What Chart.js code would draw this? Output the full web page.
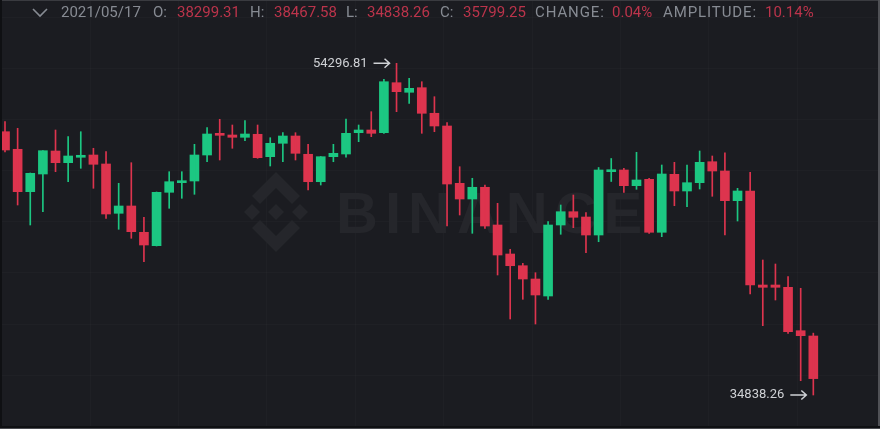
<!DOCTYPE html>
<html>
<head>
<meta charset="utf-8">
<script src="https://cdn.jsdelivr.net/npm/chart.js@4.4.1/dist/chart.umd.min.js"></script>
<style>
html, body { margin: 0; padding: 0; background: #1b1c21; }
#wrap { position: relative; width: 880px; height: 429px; overflow: hidden; }
#wrap canvas { position: absolute; left: 0; top: 0; }
.hd { position: absolute; top: 5px; font: 15px Roboto, sans-serif; line-height: 15px; white-space: nowrap; }
.lb { color: #878b93; }
.vl { color: #bb344b; }
.sp { letter-spacing: 0.9px; }
</style>
</head>
<body>
<div id="wrap">
  <canvas id="graph" width="880" height="429"></canvas>
  <svg style="position:absolute;left:31px;top:6px" width="18" height="12">
    <polyline points="2,3 9,10 16,3" fill="none" stroke="#878b93" stroke-width="1.6"/>
  </svg>
  <span class="hd lb" style="left:61px" id="hDate"></span>
  <span class="hd lb" style="left:153px">O:</span>
  <span class="hd vl" style="left:177px" id="hO"></span>
  <span class="hd lb" style="left:250px">H:</span>
  <span class="hd vl" style="left:274px" id="hH"></span>
  <span class="hd lb" style="left:346px">L:</span>
  <span class="hd vl" style="left:367px" id="hL"></span>
  <span class="hd lb" style="left:440px">C:</span>
  <span class="hd vl" style="left:463px" id="hC"></span>
  <span class="hd lb sp" style="left:535px">CHANGE:</span>
  <span class="hd vl" style="left:612px" id="hChg"></span>
  <span class="hd lb sp" style="left:663px">AMPLITUDE:</span>
  <span class="hd vl" style="left:765px" id="hAmp"></span>
</div>
<script>
// candle data (oldest -> newest)
const opens  = [50284,49252,46765,47803,49152,48466,48783,48917,48390,45497,
                45926,44383,43597,46729,47293,47392,48917,50190,50091,49956,
                50132,48818,49604,50032,48959,47351,48818,48976,50226,50384,
                50226,53159,52596,52866,51364,50619,47257,46336,47023,44811,
                43110,42423,41643,40646,44811,45591,45280,44224,47938,48038,
                47117,47492,44383,47785,46806,47293,48524,47979,46237,46806,
                41291,41291,41156,38610,38299.31];
const highs  = [50871,50484,47862,49181,50384,49991,50284,49311,49111,47257,
                48466,45263,46747,47938,47938,49545,50519,51012,50677,50930,
                50677,49932,50226,50226,49545,48829,49545,51029,50677,51458,
                53358,54296.81,53417,53217,52338,50812,48231,47551,47158,46084,
                43386,42564,42013,45005,45984,46571,45533,48184,48712,48137,
                49076,47551,48331,48489,48331,49152,48859,49052,46964,47903,
                42758,42523,41778,41098,38467.58];
const lows   = [49093,45984,44811,45591,47938,47351,48137,46964,45204,44559,
                44031,42658,43579,45791,46377,46612,48524,48624,49311,49756,
                48724,48272,48524,48624,46864,47158,48524,48783,49698,49991,
                50190,51458,51950,50190,50284,44752,45398,44324,44617,41878,
                39297,40452,39003,40452,44266,44653,43186,43831,47363,46729,
                46905,44324,44125,45943,45884,46923,46495,44224,45046,40763,
                38904,40411,38458,35677,34838.26];
const closes = [49211,46765,47844,49170,48466,48859,48900,48372,45456,45926,
                44418,43638,46729,47351,47392,48917,50149,50073,49956,50149,
                48759,49604,50032,49017,47351,48818,49017,50190,50384,50190,
                53217,52631,52830,51364,50619,47216,46336,47023,44752,43051,
                42423,41643,40705,44811,45591,45263,44224,48038,48020,47117,
                47451,44383,47803,46806,47293,48489,47979,46237,46806,41291,
                41156,41156,38552,38317,35799.25];

const lastDate = '2021/05/17';
const lastChange = '0.04%';
const lastAmplitude = '10.14%';

const redC = '#dd344e';
const greenC = '#1cc782';
const gridC = 'rgba(255,255,255,0.02)';

const n = opens.length;
document.getElementById('hDate').textContent = lastDate;
document.getElementById('hO').textContent = opens[n - 1].toFixed(2);
document.getElementById('hH').textContent = highs[n - 1].toFixed(2);
document.getElementById('hL').textContent = lows[n - 1].toFixed(2);
document.getElementById('hC').textContent = closes[n - 1].toFixed(2);
document.getElementById('hChg').textContent = lastChange;
document.getElementById('hAmp').textContent = lastAmplitude;

var candleColors = opens.map((o, i) => closes[i] >= o ? greenC : redC);
var wickData = lows.map((l, i) => ({ x: i, y: [l, highs[i]] }));
var bodyData = opens.map((o, i) => ({ x: i, y: [o, closes[i]] }));

// watermark logo + text, drawn under the candles
const watermark = {
  id: 'watermark',
  beforeDatasetsDraw(chart) {
    const c = chart.ctx;
    c.save();
    c.fillStyle = '#25262b';
    const cx = 276, cy = 212, s = 40;
    const P = (pts) => {
      c.beginPath();
      pts.forEach((p, k) => k ? c.lineTo(cx + p[0] * s, cy + p[1] * s) : c.moveTo(cx + p[0] * s, cy + p[1] * s));
      c.closePath();
      c.fill();
    };
    const dia = (x, y, r) => P([[x, y - r], [x + r, y], [x, y + r], [x - r, y]]);
    dia(0, 0, 0.2);
    dia(-0.6, 0, 0.2);
    dia(0.6, 0, 0.2);
    P([[0, -1], [0.6, -0.4], [0.4, -0.2], [0, -0.6], [-0.4, -0.2], [-0.6, -0.4]]);
    P([[0, 1], [0.6, 0.4], [0.4, 0.2], [0, 0.6], [-0.4, 0.2], [-0.6, 0.4]]);
    c.font = 'bold 58px "Liberation Sans", Arial, sans-serif';
    c.letterSpacing = '7px';
    c.textBaseline = 'alphabetic';
    c.fillText('BINANCE', 336, 233);
    c.restore();
  }
};

// max / min price markers
const extremes = {
  id: 'extremes',
  afterDatasetsDraw(chart) {
    const c = chart.ctx, xs = chart.scales.x, ys = chart.scales.y;
    let hi = 0, lo = 0;
    for (let i = 1; i < n; i++) {
      if (highs[i] > highs[hi]) hi = i;
      if (lows[i] < lows[lo]) lo = i;
    }
    const mark = (i, v) => {
      const x = xs.getPixelForValue(i), y = ys.getPixelForValue(v);
      c.save();
      c.fillStyle = '#cfd1d5';
      c.strokeStyle = '#cfd1d5';
      c.font = '13px Roboto, sans-serif';
      c.textAlign = 'right';
      c.textBaseline = 'middle';
      c.fillText(v.toFixed(2), x - 29, y);
      c.lineWidth = 1.5;
      c.beginPath();
      c.moveTo(x - 23, y); c.lineTo(x - 7, y);
      c.moveTo(x - 12, y - 4.5); c.lineTo(x - 7, y); c.lineTo(x - 12, y + 4.5);
      c.stroke();
      c.restore();
    };
    mark(hi, highs[hi]);
    mark(lo, lows[lo]);
  }
};

const frame = {
  id: 'frame',
  afterDraw(chart) {
    const c = chart.ctx;
    c.save();
    c.fillStyle = '#3a3b40'; c.fillRect(0, 0, 880, 1);
    c.fillStyle = '#0f1013'; c.fillRect(0, 0, 2, 429);
    c.fillStyle = '#505156'; c.fillRect(878, 0, 2, 429);
    c.fillStyle = '#0f1013'; c.fillRect(0, 426, 880, 2);
    c.fillStyle = '#4a4b50'; c.fillRect(0, 428, 880, 1);
    c.restore();
  }
};

var context = document.getElementById('graph').getContext('2d');
const chart = new Chart(context, {
  type: 'bar',
  data: {
    datasets: [
      { data: wickData, backgroundColor: candleColors, barThickness: 1, grouped: false },
      { data: bodyData, backgroundColor: candleColors, barThickness: 9, minBarLength: 2, grouped: false }
    ]
  },
  options: {
    responsive: false,
    animation: false,
    layout: { padding: 0 },
    plugins: { legend: { display: false }, tooltip: { enabled: false } },
    scales: {
      x: {
        type: 'linear', min: -0.396, max: 69.28, offset: false,
        grid: { color: gridC, drawTicks: false, offset: false },
        border: { display: false },
        ticks: { display: false },
        afterBuildTicks: s => {
          const t = [];
          for (let v = 6.73; v < 69; v += 7) t.push({ value: v });
          s.ticks = t;
        }
      },
      y: {
        min: 32843.8, max: 58010.2,
        grid: { color: gridC, drawTicks: false },
        border: { display: false },
        ticks: { display: false },
        afterBuildTicks: s => {
          const t = [];
          for (let v = 36000; v <= 57000; v += 3000) t.push({ value: v });
          s.ticks = t;
        }
      }
    }
  },
  plugins: [watermark, extremes, frame]
});
</script>
</body>
</html>
